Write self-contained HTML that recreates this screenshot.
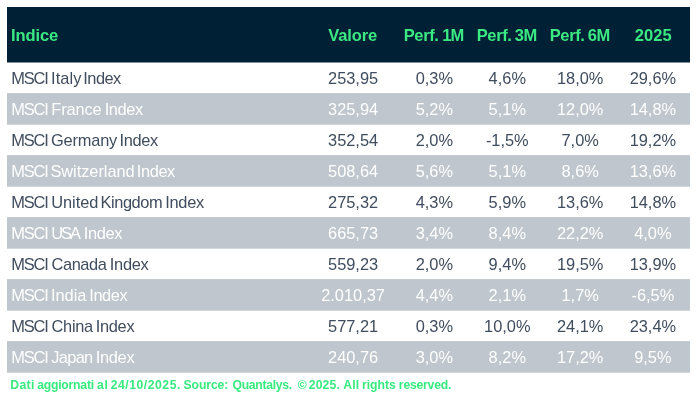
<!DOCTYPE html>
<html><head><meta charset="utf-8"><title>Indici MSCI</title>
<style>
html,body{margin:0;padding:0;background:#fff;}
body{width:697px;height:400px;overflow:hidden;position:relative;font-family:"Liberation Sans",sans-serif;}
.bg{position:absolute;left:0;top:0;display:block;}
.hd{position:absolute;left:0;top:8px;width:697px;height:55.5px;color:#3be983;font-weight:bold;font-size:16.5px;}
.r{position:absolute;left:0;width:697px;height:31px;font-size:16.4px;color:#404d5e;}
.r.g{color:#fff;}
.c,.n{position:absolute;top:0;height:100%;display:flex;align-items:center;white-space:pre;}
.c{justify-content:center;width:80px;}
.n{left:0;width:300px;}
.n span,.hd span{position:absolute;}
.hd span{top:0;height:100%;display:flex;align-items:center;white-space:pre;}
.ft{position:absolute;left:0;top:377px;width:697px;height:16px;line-height:16px;font-size:12.2px;font-weight:bold;color:#37ea7f;white-space:pre;}
.ft span{position:absolute;top:0;}
</style></head><body>
<svg class="bg" width="697" height="400" viewBox="0 0 697 400"><rect x="7" y="7" width="683" height="55.5" fill="#002135"/><rect x="7" y="93.1" width="683" height="31.6" fill="#bfc6cd"/><rect x="7" y="155.1" width="683" height="31.6" fill="#bfc6cd"/><rect x="7" y="217.1" width="683" height="31.6" fill="#bfc6cd"/><rect x="7" y="279.1" width="683" height="31.6" fill="#bfc6cd"/><rect x="7" y="341.1" width="683" height="31.6" fill="#bfc6cd"/></svg>
<div class="hd"><span style="left:10.97px;letter-spacing:-0.07px">Indice</span><span style="left:328.27px;letter-spacing:-0.10px">Valore</span><span style="left:403.67px;letter-spacing:-0.35px">Perf.</span> <span style="left:442.15px;letter-spacing:-0.82px">1M</span><span style="left:476.67px;letter-spacing:-0.35px">Perf.</span> <span style="left:514.86px;letter-spacing:-0.53px">3M</span><span style="left:549.67px;letter-spacing:-0.35px">Perf.</span> <span style="left:587.84px;letter-spacing:-0.51px">6M</span><span style="left:634.84px;letter-spacing:0.08px">2025</span></div>
<div class="r" style="top:62.5px"><div class="n"><span style="left:11.17px;letter-spacing:-1.14px">MSCI</span> <span style="left:51.07px;letter-spacing:0.06px">Italy</span> <span style="left:83.37px;letter-spacing:-0.54px">Index</span></div><div class="c" style="left:313.1px">253,95</div><div class="c" style="left:394.4px">0,3%</div><div class="c" style="left:467.3px">4,6%</div><div class="c" style="left:540.2px">18,0%</div><div class="c" style="left:612.9px">29,6%</div></div>
<div class="r g" style="top:93.5px"><div class="n"><span style="left:11.17px;letter-spacing:-1.14px">MSCI</span> <span style="left:51.32px;letter-spacing:-0.12px">France</span> <span style="left:104.67px;letter-spacing:-0.36px">Index</span></div><div class="c" style="left:313.1px">325,94</div><div class="c" style="left:394.4px">5,2%</div><div class="c" style="left:467.3px">5,1%</div><div class="c" style="left:540.2px">12,0%</div><div class="c" style="left:612.9px">14,8%</div></div>
<div class="r" style="top:124.5px"><div class="n"><span style="left:11.17px;letter-spacing:-1.14px">MSCI</span> <span style="left:50.94px;letter-spacing:-0.18px">Germany</span> <span style="left:119.57px;letter-spacing:-0.34px">Index</span></div><div class="c" style="left:313.1px">352,54</div><div class="c" style="left:394.4px">2,0%</div><div class="c" style="left:467.3px">-1,5%</div><div class="c" style="left:540.2px">7,0%</div><div class="c" style="left:612.9px">19,2%</div></div>
<div class="r g" style="top:155.5px"><div class="n"><span style="left:11.17px;letter-spacing:-1.14px">MSCI</span> <span style="left:50.44px;letter-spacing:-0.05px">Switzerland</span> <span style="left:136.87px;letter-spacing:-0.41px">Index</span></div><div class="c" style="left:313.1px">508,64</div><div class="c" style="left:394.4px">5,6%</div><div class="c" style="left:467.3px">5,1%</div><div class="c" style="left:540.2px">8,6%</div><div class="c" style="left:612.9px">13,6%</div></div>
<div class="r" style="top:186.5px"><div class="n"><span style="left:11.17px;letter-spacing:-1.14px">MSCI</span> <span style="left:51.34px;letter-spacing:-0.08px">United</span> <span style="left:100.53px;letter-spacing:-0.43px">Kingdom</span> <span style="left:165.17px;letter-spacing:-0.26px">Index</span></div><div class="c" style="left:313.1px">275,32</div><div class="c" style="left:394.4px">4,3%</div><div class="c" style="left:467.3px">5,9%</div><div class="c" style="left:540.2px">13,6%</div><div class="c" style="left:612.9px">14,8%</div></div>
<div class="r g" style="top:217.5px"><div class="n"><span style="left:11.17px;letter-spacing:-1.14px">MSCI</span> <span style="left:51.24px;letter-spacing:-1.99px">USA</span> <span style="left:83.77px;letter-spacing:-0.34px">Index</span></div><div class="c" style="left:313.1px">665,73</div><div class="c" style="left:394.4px">3,4%</div><div class="c" style="left:467.3px">8,4%</div><div class="c" style="left:540.2px">22,2%</div><div class="c" style="left:612.9px">4,0%</div></div>
<div class="r" style="top:248.5px"><div class="n"><span style="left:11.17px;letter-spacing:-1.14px">MSCI</span> <span style="left:51.54px;letter-spacing:-0.42px">Canada</span> <span style="left:109.87px;letter-spacing:-0.31px">Index</span></div><div class="c" style="left:313.1px">559,23</div><div class="c" style="left:394.4px">2,0%</div><div class="c" style="left:467.3px">9,4%</div><div class="c" style="left:540.2px">19,5%</div><div class="c" style="left:612.9px">13,9%</div></div>
<div class="r g" style="top:279.5px"><div class="n"><span style="left:11.17px;letter-spacing:-1.14px">MSCI</span> <span style="left:50.97px;letter-spacing:-0.04px">India</span> <span style="left:89.27px;letter-spacing:-0.44px">Index</span></div><div class="c" style="left:313.1px">2.010,37</div><div class="c" style="left:394.4px">4,4%</div><div class="c" style="left:467.3px">2,1%</div><div class="c" style="left:540.2px">1,7%</div><div class="c" style="left:612.9px">-6,5%</div></div>
<div class="r" style="top:310.5px"><div class="n"><span style="left:11.17px;letter-spacing:-1.14px">MSCI</span> <span style="left:51.54px;letter-spacing:-0.29px">China</span> <span style="left:95.87px;letter-spacing:-0.34px">Index</span></div><div class="c" style="left:313.1px">577,21</div><div class="c" style="left:394.4px">0,3%</div><div class="c" style="left:467.3px">10,0%</div><div class="c" style="left:540.2px">24,1%</div><div class="c" style="left:612.9px">23,4%</div></div>
<div class="r g" style="top:341.5px"><div class="n"><span style="left:11.17px;letter-spacing:-1.14px">MSCI</span> <span style="left:51.13px;letter-spacing:-0.64px">Japan</span> <span style="left:95.87px;letter-spacing:-0.34px">Index</span></div><div class="c" style="left:313.1px">240,76</div><div class="c" style="left:394.4px">3,0%</div><div class="c" style="left:467.3px">8,2%</div><div class="c" style="left:540.2px">17,2%</div><div class="c" style="left:612.9px">9,5%</div></div>
<div class="ft"><span style="left:10.19px;letter-spacing:0.42px">Dati</span> <span style="left:37.19px;letter-spacing:-0.22px">aggiornati</span> <span style="left:97.09px;letter-spacing:0.56px">al</span> <span style="left:110.76px;letter-spacing:0.52px">24/10/2025.</span> <span style="left:183.54px;letter-spacing:-0.10px">Source:</span> <span style="left:232.53px;letter-spacing:-0.31px">Quantalys.</span> <span style="left:297.63px;letter-spacing:0.00px">©</span> <span style="left:308.76px;letter-spacing:0.15px">2025.</span> <span style="left:343.25px;letter-spacing:0.21px">All</span> <span style="left:361.96px;letter-spacing:0.01px">rights</span> <span style="left:398.86px;letter-spacing:-0.22px">reserved.</span></div>
</body></html>
